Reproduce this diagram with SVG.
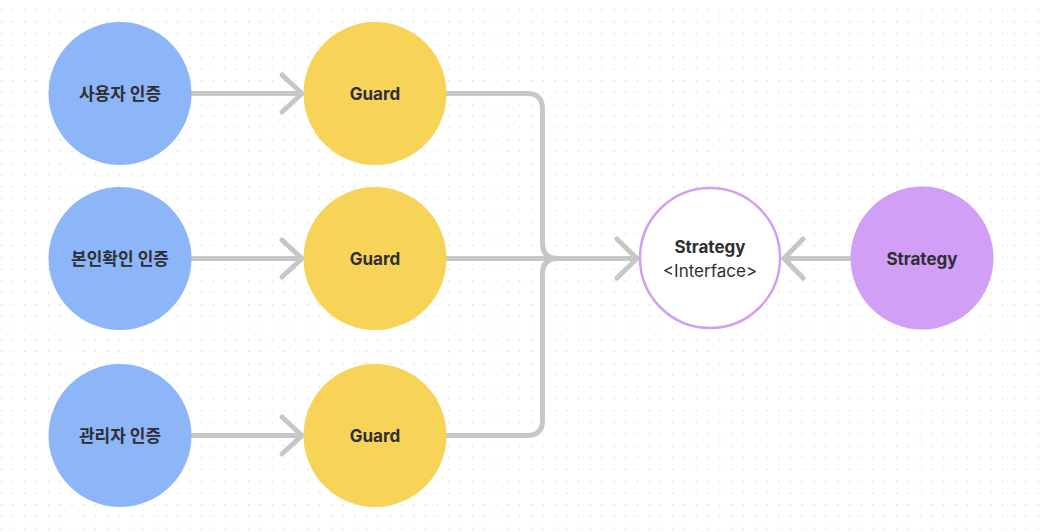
<svg xmlns="http://www.w3.org/2000/svg" width="1041" height="532" viewBox="0 0 1041 532">
<defs>
<pattern id="dots" x="0.7" y="9.4" width="11.78" height="11.78" patternUnits="userSpaceOnUse">
<rect x="0" y="0" width="1.2" height="1.2" fill="#d2d2d2"/>
</pattern>
<style>
.conn{fill:none;stroke:#c7c7c7;stroke-width:5;stroke-linecap:round;stroke-linejoin:round}
.blue{fill:#8db6f9}
.yellow{fill:#f7d458}
.purple{fill:#d19ff6}
.iface{fill:#ffffff;stroke:#d19ff6;stroke-width:2.5}
.lbl{font-family:Inter,"Noto Sans CJK KR","Liberation Sans",sans-serif;font-size:17px;font-weight:700;fill:#2f2f33;text-anchor:middle;dominant-baseline:central}
.lblr{font-family:Inter,"Liberation Sans",sans-serif;font-size:17px;font-weight:400;fill:#2f2f33;text-anchor:middle;dominant-baseline:central}
</style>
</defs>
<rect width="1041" height="532" fill="#ffffff"/>
<rect width="1041" height="532" fill="url(#dots)"/>

<g id="connectors">
<path class="conn" d="M192,93.5 H302"/>
<path class="conn" d="M282,75 L302,93.5 L282,112"/>
<path class="conn" d="M192,258.5 H302"/>
<path class="conn" d="M282,240 L302,258.5 L282,277"/>
<path class="conn" d="M192,435.5 H302"/>
<path class="conn" d="M282,417 L302,435.5 L282,454"/>
<path class="conn" d="M447,93.5 H527 Q542.5,93.5 542.5,109 V243 Q542.5,258.5 558,258.5"/>
<path class="conn" d="M447,435.5 H527 Q542.5,435.5 542.5,420 V274 Q542.5,258.5 558,258.5"/>
<path class="conn" d="M447,258.5 H637"/>
<path class="conn" d="M617,239 L637,258.5 L617,278"/>
<path class="conn" d="M850,258.5 H784"/>
<path class="conn" d="M803,239 L784,258.5 L803,278"/>
</g>

<g id="n-user"><circle class="blue" cx="120" cy="93.5" r="71.5"/><text class="lbl" x="120" y="94">사용자 인증</text></g>
<g id="n-identity"><circle class="blue" cx="120" cy="258.5" r="71.5"/><text class="lbl" x="120" y="259">본인확인 인증</text></g>
<g id="n-admin"><circle class="blue" cx="120" cy="435.5" r="71.5"/><text class="lbl" x="120" y="436">관리자 인증</text></g>

<g id="g-guard1"><circle class="yellow" cx="375" cy="93.5" r="71.5"/><text class="lbl" x="375" y="94">Guard</text></g>
<g id="g-guard2"><circle class="yellow" cx="375" cy="258.5" r="71.5"/><text class="lbl" x="375" y="259">Guard</text></g>
<g id="g-guard3"><circle class="yellow" cx="375" cy="435.5" r="71.5"/><text class="lbl" x="375" y="436">Guard</text></g>

<g id="n-interface"><circle class="iface" cx="710" cy="258" r="70"/><text class="lbl" x="710" y="247">Strategy</text><text class="lblr" x="710" y="271">&lt;Interface&gt;</text></g>
<g id="n-strategy"><circle class="purple" cx="922" cy="258" r="71.5"/><text class="lbl" x="922" y="259">Strategy</text></g>
</svg>
